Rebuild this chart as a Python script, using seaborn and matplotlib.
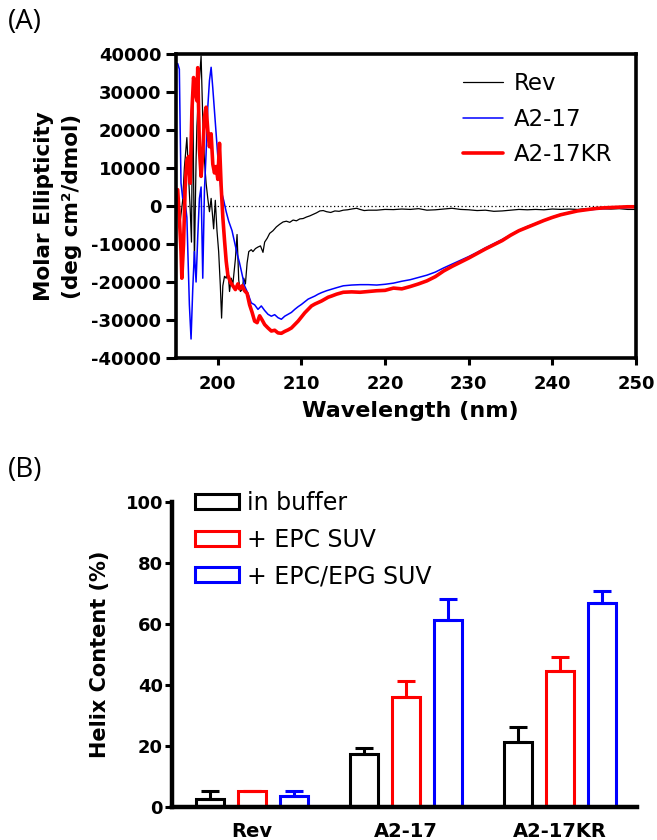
import matplotlib
matplotlib.use("Agg")
import matplotlib.pyplot as plt
from matplotlib.lines import Line2D
from matplotlib.patches import Patch
import seaborn as sns
import pandas as pd
import numpy as np

# ---------------- data: panel A (CD spectra) ----------------
wl_rev = [195.2, 195.5, 195.8, 196.0, 196.3, 196.5, 196.7, 196.85, 197.0, 197.2, 197.4, 197.5,
          197.7, 198.0, 198.2, 198.4, 198.6, 198.8, 199.0, 199.2, 199.5, 199.7, 199.9, 200.1,
          200.3, 200.45, 200.6, 200.8, 201.0, 201.2, 201.4, 201.6, 201.8, 202.1, 202.3, 202.5,
          202.7, 202.9, 203.1, 203.3, 203.5, 203.7, 204.0, 204.2, 204.5, 204.8, 205.1, 205.4,
          205.6, 205.9, 206.2, 206.6, 207.0, 207.4, 207.8, 208.2, 208.6, 209.0, 209.4, 209.8,
          210.2, 210.6, 211.0, 211.4, 211.8, 212.2, 212.6, 213.0, 213.5, 214.0, 214.5, 215.0,
          215.5, 216.0, 216.6, 217.0, 217.5, 218.0, 219.0, 220.0, 221.0, 222.0, 223.0, 224.0,
          225.0, 226.0, 227.0, 228.0, 229.0, 230.0, 231.0, 232.0, 233.0, 234.0, 235.0, 236.0,
          237.0, 238.0, 239.0, 240.0, 241.0, 242.0, 243.0, 244.0, 245.0, 246.0, 247.0, 248.0,
          249.0, 250.0]
cd_rev = [2000, -4000, 1500, 10000, 18000, 8000, -1000, -9500, 32000, -15000, 12000, 21000,
          30000, 39500, 23000, 12000, 6000, 2000, -1500, 2000, -6000, 1500, -6500, -12000,
          -21000, -29500, -21000, -18500, -19000, -16500, -22500, -19000, -20500, -14000, -7500, -19500,
          -22500, -22000, -19000, -20500, -15000, -12000, -11500, -12000, -11200, -10800, -10500, -12200,
          -9500, -8500, -7200, -6500, -5500, -4800, -4200, -4000, -4300, -3700, -3900, -3400,
          -3300, -2900, -2600, -2200, -1800, -1300, -1200, -1500, -1700, -1300, -1400, -1100,
          -1000, -800, -600, -900, -1200, -1100, -1100, -900, -950, -800, -900, -700,
          -1100, -1000, -800, -600, -900, -1000, -1200, -1100, -1400, -1300, -1100, -900,
          -1000, -900, -1000, -800, -900, -800, -900, -700, -800, -700, -800, -700,
          -900, -900]

wl_a217 = [195.2, 195.4, 195.5, 195.6, 195.8, 196.0, 196.3, 196.6, 196.8, 197.0, 197.2, 197.4,
           197.6, 197.8, 198.0, 198.2, 198.4, 198.6, 198.8, 199.0, 199.2, 199.4, 199.6, 199.8,
           200.0, 200.2, 200.4, 200.7, 201.0, 201.3, 201.7, 202.0, 202.3, 202.6, 202.9, 203.2,
           203.6, 204.0, 204.4, 204.8, 205.2, 205.6, 206.0, 206.4, 206.8, 207.2, 207.6, 208.0,
           208.4, 208.8, 209.2, 209.6, 210.0, 210.4, 210.8, 211.2, 211.6, 212.0, 212.4, 213.0,
           213.6, 214.2, 215.0, 216.0, 217.0, 218.0, 219.0, 220.0, 221.0, 222.0, 223.0, 224.0,
           225.0, 226.0, 227.0, 228.0, 229.0, 230.0, 231.0, 232.0, 233.0, 234.0, 235.0, 236.0,
           237.0, 238.0, 239.0, 240.0, 241.0, 242.0, 243.0, 244.0, 245.0, 246.0, 247.0, 248.0,
           249.0, 250.0]
cd_a217 = [37500, 36000, 20000, 6000, 2000, 3000, -3000, -26000, -35000, -22000, -12000, -20000,
           -8000, 2000, 5000, -19000, 4000, 14000, 26000, 33000, 36500, 31000, 25000, 19000,
           13000, 8000, 4000, 1500, -1500, -4000, -6500, -9500, -12500, -15000, -18000, -21000,
           -23000, -25500, -26000, -27200, -26300, -27500, -28500, -29000, -28600, -29400, -29800, -29000,
           -28500, -28000, -27200, -26500, -25900, -25200, -24500, -24100, -23700, -23200, -22800, -22300,
           -21900, -21500, -21000, -20800, -20700, -20700, -20800, -20600, -20300, -19800, -19400, -18800,
           -18200, -17400, -16300, -15300, -14300, -13300, -12200, -11000, -9900, -8800, -7600, -6400,
           -5400, -4600, -3700, -2900, -2200, -1700, -1300, -1100, -900, -700, -600, -500,
           -400, -300]

wl_kr = [195.2, 195.4, 195.6, 195.7, 195.9, 196.1, 196.3, 196.5, 196.7, 196.9, 197.1, 197.3,
         197.5, 197.6, 197.8, 198.0, 198.2, 198.4, 198.6, 198.8, 199.0, 199.2, 199.4, 199.6,
         199.8, 200.0, 200.2, 200.4, 200.6, 200.8, 201.0, 201.2, 201.5, 201.8, 202.1, 202.4,
         202.6, 202.9, 203.2, 203.5, 203.8, 204.1, 204.4, 204.7, 205.0, 205.3, 205.6, 206.0,
         206.4, 206.8, 207.2, 207.6, 208.0, 208.4, 208.8, 209.2, 209.6, 210.0, 210.4, 210.8,
         211.2, 211.6, 212.0, 212.4, 212.8, 213.2, 213.6, 214.2, 215.0, 216.0, 217.0, 218.0,
         219.0, 220.0, 221.0, 222.0, 223.0, 224.0, 225.0, 226.0, 227.0, 228.0, 229.0, 230.0,
         231.0, 232.0, 233.0, 234.0, 235.0, 236.0, 237.0, 238.0, 239.0, 240.0, 241.0, 242.0,
         243.0, 244.0, 245.0, 246.0, 247.0, 248.0, 249.0, 250.0]
cd_kr = [4300, -3000, -12000, -19000, -10000, 5000, 12000, 13000, 6000, 25000, 33800, 30000,
         27700, 36400, 15000, 7800, 14000, 23400, 26000, 20000, 15600, 19000, 11000, 8700,
         10400, 7000, 16500, 5200, -3000, -9000, -14500, -18200, -20000, -21000, -22000, -20500,
         -21800, -21000, -22300, -23000, -26000, -28000, -30300, -30700, -28900, -30000, -31200, -32100,
         -32900, -32700, -33400, -33500, -33000, -32600, -32100, -31200, -30300, -29200, -28100, -27200,
         -26300, -25800, -25400, -25000, -24500, -24000, -23700, -23200, -22700, -22600, -22700, -22500,
         -22300, -22200, -21600, -21800, -21200, -20500, -19700, -18600, -17100, -15900, -14800, -13700,
         -12500, -11300, -10200, -9100, -7700, -6500, -5600, -4700, -3800, -3000, -2300, -1800,
         -1300, -1000, -700, -500, -400, -300, -200, -200]

series_names = ["Rev", "A2-17", "A2-17KR"]
series_colors = ["#000000", "#0000FF", "#FF0000"]
series_widths = [0.9, 1.1, 2.6]

# ---------------- data: panel B (helix content) ----------------
peptides = ["Rev", "A2-17", "A2-17KR"]
conditions = ["in buffer", "+ EPC SUV", "+ EPC/EPG SUV"]
cond_colors = ["#000000", "#FF0000", "#0000FF"]
helix_buffer = [2.7, 17.5, 21.3]
helix_epc = [5.2, 36.1, 44.6]
helix_epg = [3.5, 61.4, 66.9]
err_buffer = [2.4, 2.0, 4.9]
err_epc = [0.15, 5.2, 4.6]
err_epg = [1.6, 6.7, 3.9]

# ---------------- style ----------------
sns.set_style("ticks")
plt.rcParams["font.family"] = ["DejaVu Sans"]
plt.rcParams["axes.unicode_minus"] = False
for key in ["text.color", "axes.labelcolor", "xtick.color", "ytick.color", "axes.edgecolor"]:
    plt.rcParams[key] = "black"

W, H = 657, 840
fig = plt.figure(figsize=(W / 100, H / 100), dpi=100)

def fx(px):
    return px / W

def fy(py):
    return 1 - py / H

# ---------------- panel A ----------------
axA = fig.add_axes([fx(176), fy(358), (636 - 176) / W, (358 - 54) / H])
spectra = [(wl_rev, cd_rev), (wl_a217, cd_a217), (wl_kr, cd_kr)]
for (wl, cd), name, col, lw in zip(spectra, series_names, series_colors, series_widths):
    df = pd.DataFrame({"wavelength": wl, "ellipticity": cd})
    sns.lineplot(data=df, x="wavelength", y="ellipticity", color=col, linewidth=lw,
                 estimator=None, sort=False, ax=axA)
axA.axhline(0, color="black", linestyle=(0, (1, 2)), linewidth=0.9, zorder=0)
axA.set_xlim(195, 250)
axA.set_ylim(-40000, 40000)
axA.set_xticks(np.arange(200, 251, 10))
axA.set_yticks(np.arange(-40000, 40001, 10000))
for s in axA.spines.values():
    s.set_linewidth(2.6)
    s.set_visible(True)
    s.set_color("black")
axA.tick_params(axis="y", length=7, width=2.2, pad=3.5, labelsize=13, colors="black")
axA.tick_params(axis="x", length=5, width=2.2, pad=7, labelsize=13, colors="black")
for lab in axA.get_xticklabels() + axA.get_yticklabels():
    lab.set_fontweight("bold")
axA.set_xlabel("Wavelength (nm)", fontsize=16, fontweight="bold", color="black")
axA.xaxis.set_label_coords(0.509, -0.14)
axA.set_ylabel("Molar Ellipticity\n(deg cm²/dmol)", fontsize=15.5, fontweight="bold",
               linespacing=1.45, color="black")
axA.yaxis.set_label_coords(-0.205, 0.5)
handlesA = [Line2D([0], [0], color=c, lw=w) for c, w in zip(series_colors, series_widths)]
axA.legend(handlesA, series_names, loc="upper left", bbox_to_anchor=(fx(463), fy(72)),
           bbox_transform=fig.transFigure, frameon=False, fontsize=16.5, borderpad=0,
           borderaxespad=0, handlelength=1.75, handletextpad=0.45, labelspacing=0.55)

# ---------------- panel B ----------------
axB = fig.add_axes([fx(172), fy(807), (637 - 172) / W, (807 - 502) / H])
dfB = pd.DataFrame({
    "peptide": peptides * 3,
    "condition": [c for c in conditions for _ in peptides],
    "helix": helix_buffer + helix_epc + helix_epg,
})
sns.barplot(data=dfB, x="peptide", y="helix", hue="condition", order=peptides,
            hue_order=conditions, palette=cond_colors, fill=False, linewidth=2.2,
            width=0.82, gap=0.33, errorbar=None, legend=False, ax=axB)
errs = [err_buffer, err_epc, err_epg]
conts = list(axB.containers)
for i, cont in enumerate(conts):
    for j, bar in enumerate(cont):
        xc = bar.get_x() + bar.get_width() / 2
        h = bar.get_height()
        axB.errorbar(xc, h, yerr=[[0], [errs[i][j]]], color=cond_colors[i],
                     elinewidth=2.2, capsize=6.5, capthick=2.2, fmt="none")
axB.set_xlim(-0.52, 2.5)
axB.set_ylim(0, 100)
axB.set_yticks(np.arange(0, 101, 20))
sns.despine(ax=axB)
axB.spines["left"].set_linewidth(3.2)
axB.spines["bottom"].set_linewidth(3.2)
axB.spines["left"].set_color("black")
axB.spines["bottom"].set_color("black")
axB.tick_params(axis="y", length=5, width=2.2, pad=1.5, labelsize=13, colors="black")
axB.tick_params(axis="x", length=0, pad=11, labelsize=14, colors="black")
for lab in axB.get_xticklabels() + axB.get_yticklabels():
    lab.set_fontweight("bold")
axB.set_xlabel("")
axB.set_ylabel("Helix Content (%)", fontsize=15, fontweight="bold", color="black")
axB.yaxis.set_label_coords(-0.133, 0.5)
handlesB = [Patch(facecolor="none", edgecolor=c, linewidth=2.2) for c in cond_colors]
axB.legend(handlesB, conditions, loc="upper left", bbox_to_anchor=(fx(195), fy(491)),
           bbox_transform=fig.transFigure, frameon=False, fontsize=17, borderpad=0,
           borderaxespad=0, handlelength=1.85, handleheight=0.62, handletextpad=0.35,
           labelspacing=0.53)

# ---------------- panel labels ----------------
fig.text(fx(8), fy(22), "(A)", fontsize=20, family=["Open Sans", "DejaVu Sans"], va="center", ha="left")
fig.text(fx(8), fy(470), "(B)", fontsize=20, family=["Open Sans", "DejaVu Sans"], va="center", ha="left")

fig.savefig("out.png", dpi=100)
